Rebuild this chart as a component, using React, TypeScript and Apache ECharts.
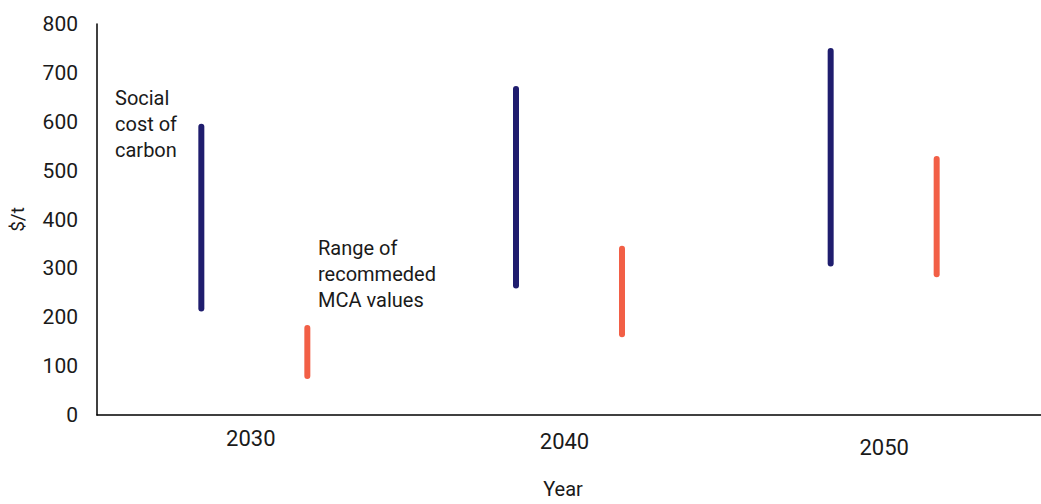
import React, { useEffect, useRef } from "react";
import * as echarts from "echarts";

const years = ["2030", "2040", "2050"];
const socialCostLow = [218, 265, 310];
const socialCostHigh = [590, 667, 745];
const mcaLow = [80, 165, 288];
const mcaHigh = [178, 340, 524];
const yTicks = [0, 100, 200, 300, 400, 500, 600, 700, 800];

const NAVY = "#1f1d6e";
const ORANGE = "#f25f46";
const TEXT = "#1a1a1a";
const FONT = "Roboto";

function rangeSeries(name: string, lows: number[], highs: number[], color: string, offset: number) {
  return {
    name,
    type: "custom",
    data: years.map((_, i) => [i, lows[i], highs[i]]),
    encode: { x: 0, y: [1, 2] },
    renderItem: (_params: any, api: any) => {
      const idx = api.value(0);
      const lo = api.coord([idx, api.value(1)]);
      const hi = api.coord([idx, api.value(2)]);
      return {
        type: "line",
        shape: { x1: lo[0] + offset, y1: lo[1], x2: hi[0] + offset, y2: hi[1] },
        style: { stroke: color, lineWidth: 6, lineCap: "round" },
      };
    },
  };
}

export default function App() {
  const ref = useRef<HTMLDivElement>(null);
  useEffect(() => {
    if (!ref.current) return;
    const chart = echarts.init(ref.current, undefined, { renderer: "svg" });
    chart.setOption({
      animation: false,
      backgroundColor: "#ffffff",
      grid: { left: 97, right: -7, top: 24, bottom: 83 },
      xAxis: {
        type: "category",
        data: years,
        boundaryGap: true,
        name: "Year",
        nameLocation: "middle",
        nameGap: 64,
        nameTextStyle: { fontFamily: FONT, fontSize: 20, color: TEXT, padding: [0, 12, 0, 0] },
        axisLine: { show: true, lineStyle: { color: "#000", width: 1.5 } },
        axisTick: { show: false },
        axisLabel: {
          margin: 12,
          fontFamily: FONT,
          fontSize: 22,
          color: TEXT,
          formatter: (v: string) => {
            const i = years.indexOf(v);
            return "{l" + i + "|" + v + "}";
          },
          rich: {
            l0: { fontFamily: FONT, fontSize: 22, color: TEXT, padding: [0, 7, 0, 0] },
            l1: { fontFamily: FONT, fontSize: 22, color: TEXT, padding: [3, 9, 0, 0] },
            l2: { fontFamily: FONT, fontSize: 22, color: TEXT, padding: [9, 0, 0, 1] },
          },
        },
        splitLine: { show: false },
      },
      yAxis: {
        type: "value",
        min: yTicks[0],
        max: yTicks[yTicks.length - 1],
        interval: 100,
        name: "$/t",
        nameLocation: "middle",
        nameGap: 70,
        nameTextStyle: { fontFamily: FONT, fontSize: 19, color: TEXT },
        axisLine: { show: true, lineStyle: { color: "#000", width: 1.5 } },
        axisTick: { show: false },
        axisLabel: { margin: 19, fontFamily: FONT, fontSize: 21, color: TEXT },
        splitLine: { show: false },
      },
      series: [
        rangeSeries("Social cost of carbon", socialCostLow, socialCostHigh, NAVY, -53),
        rangeSeries("Range of recommeded MCA values", mcaLow, mcaHigh, ORANGE, 53),
      ],
      graphic: [
        {
          type: "text",
          left: 115,
          top: 85,
          style: {
            text: "Social\ncost of\ncarbon",
            fontFamily: FONT,
            fontSize: 20,
            lineHeight: 26,
            fill: TEXT,
          },
        },
        {
          type: "text",
          left: 318,
          top: 235,
          style: {
            text: "Range of\nrecommeded\nMCA values",
            fontFamily: FONT,
            fontSize: 20,
            lineHeight: 26,
            fill: TEXT,
          },
        },
      ],
    });
    return () => chart.dispose();
  }, []);
  return (
    <div
      ref={ref}
      style={{ position: "fixed", left: 0, top: 0, width: 1041, height: 504 }}
    />
  );
}
